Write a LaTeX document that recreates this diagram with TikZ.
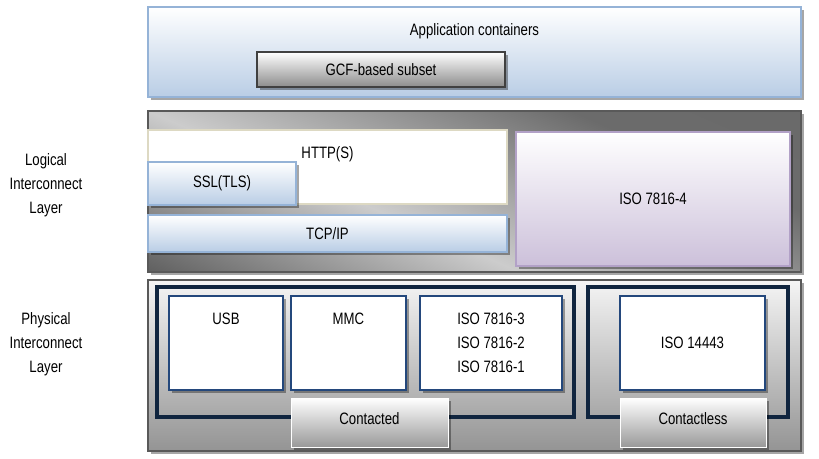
\documentclass[tikz,border=0pt]{standalone}
\usepackage{fontspec}
\setmainfont{Liberation Sans}[FakeStretch=0.8]
\usepackage{xcolor}
\usepackage{tikz}
\usetikzlibrary{shadows}

\definecolor{paleblue}{RGB}{185,205,229}
\definecolor{edgeblue}{RGB}{149,179,215}
\definecolor{palelilac}{RGB}{204,192,218}
\definecolor{edgelilac}{RGB}{178,161,199}
\definecolor{navyline}{RGB}{16,37,63}
\definecolor{slotblue}{RGB}{36,72,124}
\definecolor{httpedge}{RGB}{221,217,195}

% light band across the logical layer
\pgfdeclareverticalshading{logicshade}{100bp}{color(0bp)=(black!63); color(37bp)=(black!62); color(50bp)=(black!20); color(65bp)=(black!58); color(100bp)=(black!60)}

\begin{document}
\begin{tikzpicture}[
  x=1pt, y=-1pt,
  font=\fontsize{16.5}{24}\selectfont,
  box/.style={inner sep=0pt, outer sep=0pt, align=center},
  shade3/.style={drop shadow={shadow xshift=3pt, shadow yshift=-3pt, fill=black, opacity=0.35}},
  toptext/.style={label={[anchor=base, yshift=-28pt]north:#1}},
  bluebar/.style={box, shade3, draw=edgeblue, line width=1.5pt, top color=white, bottom color=paleblue},
  greybar/.style={box, shade3, draw=black!75, line width=1.2pt, top color=white, bottom color=black!45},
  lilac/.style={box, shade3, draw=edgelilac, line width=1.5pt, top color=white, bottom color=palelilac},
  layer/.style={box, shade3, draw=black!65, line width=1.2pt},
  slot/.style={box, shade3, draw=slotblue, line width=1.6pt, fill=white},
  group/.style={box, draw=navyline, line width=3.5pt},
  tag/.style={box, shade3, draw=white, line width=0.6pt, top color=white, bottom color=black!40, text depth=8pt},
  side/.style={align=center}
]
\useasboundingbox (0,0) rectangle (819,458);

% application layer
\node[bluebar, minimum width=653pt, minimum height=90pt, toptext={Application containers}] (apps) at (474.5,52) {};
\node[greybar, minimum width=248pt, minimum height=35pt] (gcf) at (381,69.5) {GCF-based subset};

% logical interconnect layer
\node[layer, fill=black!50, minimum width=653pt, minimum height=161pt] (logical) at (474.5,191.5) {};
\begin{scope}
  \clip (logical.north west) rectangle (logical.south east);
  \shade[shading=logicshade, transform canvas={rotate around={-23.4:(334,191.5)}}] (-166,-88.5) rectangle (834,471.5);
\end{scope}
\draw[black!65, line width=1.2pt] (logical.north west) rectangle (logical.south east);
\node[box, draw=httpedge, line width=1.2pt, fill=white, minimum width=359pt, minimum height=74pt, toptext={HTTP(S)}] (http) at (327.5,167) {};
\node[bluebar, minimum width=148pt, minimum height=43pt] (ssl) at (222,183.5) {SSL(TLS)};
\node[bluebar, minimum width=359pt, minimum height=37pt] (tcp) at (327.5,233.5) {TCP/IP};
\node[lilac, minimum width=274pt, minimum height=134pt] (iso4) at (653,199) {ISO 7816-4};

% physical interconnect layer
\node[layer, minimum width=653pt, minimum height=171pt, top color=black!4, bottom color=black!42] (physical) at (474.5,365.5) {};
\node[group, minimum width=417pt, minimum height=130pt] (contactgrp) at (365.5,352) {};
\node[group, minimum width=200pt, minimum height=130pt] (nfcgrp) at (688,352) {};
\node[slot, minimum width=114pt, minimum height=94pt, toptext=USB] (usb) at (226,343) {};
\node[slot, minimum width=115pt, minimum height=94pt, toptext=MMC] (mmc) at (348.5,343) {};
\node[slot, minimum width=142pt, minimum height=94pt] (iso123) at (491,343) {ISO 7816-3\\ISO 7816-2\\ISO 7816-1};
\node[slot, minimum width=145pt, minimum height=94pt] (iso14443) at (692.5,343) {ISO 14443};
\node[tag, minimum width=157pt, minimum height=49pt] (contacted) at (369.5,422.5) {Contacted};
\node[tag, minimum width=146pt, minimum height=49pt] (contactless) at (693,422.5) {Contactless};

% layer names
\node[side] (logname) at (46,185) {Logical\\Interconnect\\Layer};
\node[side] (physname) at (46,344) {Physical\\Interconnect\\Layer};
\end{tikzpicture}
\end{document}
